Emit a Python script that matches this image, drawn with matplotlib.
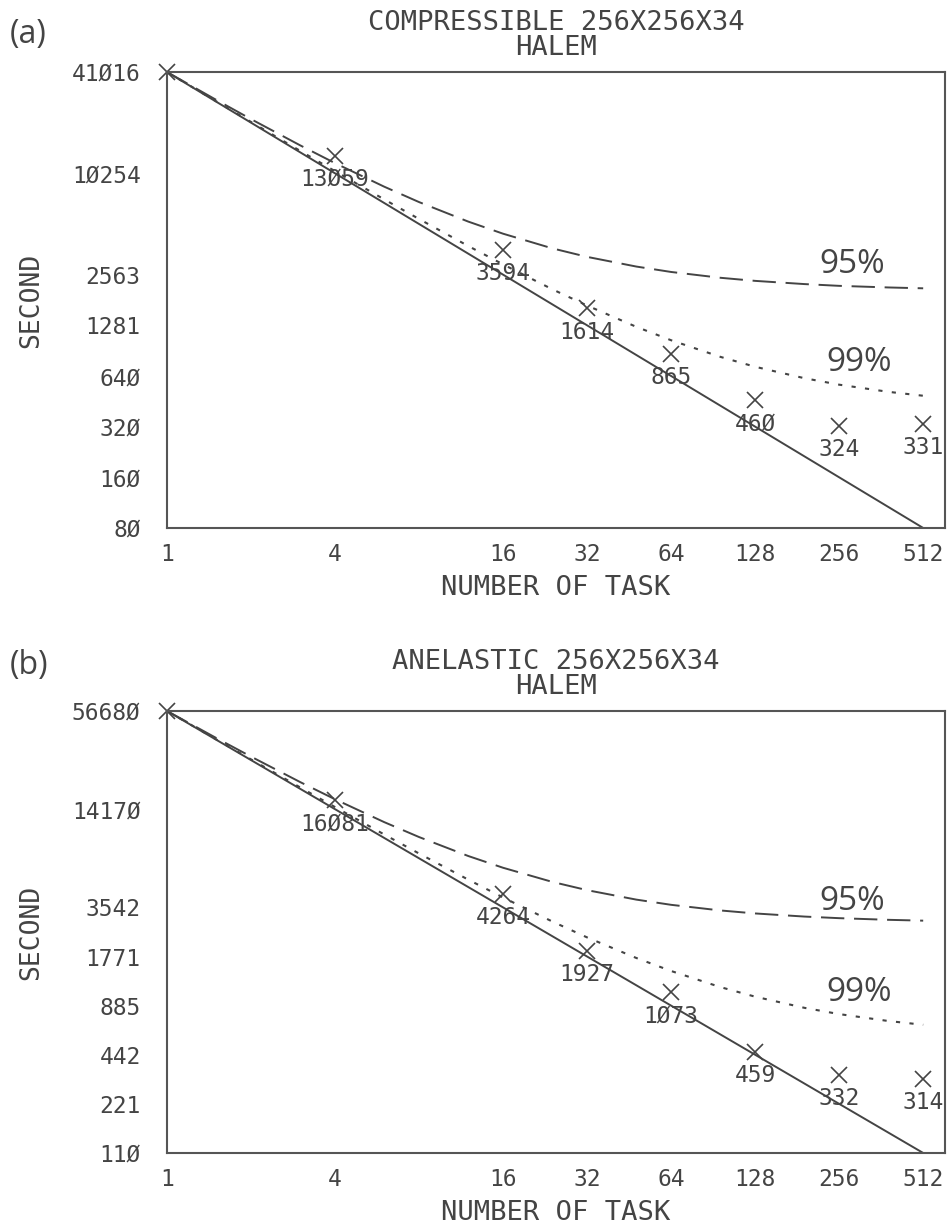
import matplotlib
matplotlib.use('Agg')
import matplotlib.pyplot as plt

# task counts (log2 axis)
tasks = [1, 4, 16, 32, 64, 128, 256, 512]
curve_tasks = [1, 1.5, 2, 3, 4, 6, 8, 12, 16, 24, 32, 48, 64, 96, 128, 192, 256, 384, 512]

# (a) compressible 256x256x34
comp_time = [41016, 13059, 3594, 1614, 865, 460, 324, 331]
comp_ideal = [41016, 80.1]
comp_95 = [41016, 28030, 21530, 15040, 11790, 8545, 6920, 5300, 4490, 3675,
           3270, 2865, 2660, 2457, 2355, 2254, 2200, 2152, 2127]
comp_99 = [41016, 27480, 20710, 13945, 10560, 7180, 5490, 3795, 2950, 2100,
           1680, 1256, 1045, 833, 727, 622, 569, 516, 489]
comp_yticks = [41016, 10254, 2563, 1281, 640, 320, 160, 80.1]
comp_ylabels = ['41Ø16', '1Ø254', '2563', '1281', '64Ø', '32Ø', '16Ø', '8Ø']

# (b) anelastic 256x256x34
anel_time = [56680, 16081, 4264, 1927, 1073, 459, 332, 314]
anel_ideal = [56680, 110.7]
anel_95 = [56680, 38730, 29760, 20780, 16300, 11810, 9565, 7320, 6200, 5080,
           4520, 3956, 3675, 3395, 3254, 3114, 3044, 2974, 2939]
anel_99 = [56680, 37980, 28620, 19270, 14600, 9920, 7580, 5245, 4074, 2905,
           2320, 1736, 1444, 1151, 1005, 859, 786, 713, 676]
anel_yticks = [56680, 14170, 3542, 1771, 885, 442, 221, 110.7]
anel_ylabels = ['5668Ø', '1417Ø', '3542', '1771', '885', '442', '221', '11Ø']

xtick_labels = ['1', '4', '16', '32', '64', '128', '256', '512']

INK = '#444444'
MONO = 'DejaVu Sans Mono'
SANS = 'Open Sans'

fig = plt.figure(figsize=(9.49, 12.25), dpi=100)

panels = [
    ('(a)', 'COMPRESSIBLE 256X256X34\nHALEM', comp_time, comp_ideal, comp_95, comp_99,
     comp_yticks, comp_ylabels, [0.176, 0.569, 0.820, 0.3722], 0.577, 0.364, 1.083),
    ('(b)', 'ANELASTIC 256X256X34\nHALEM', anel_time, anel_ideal, anel_95, anel_99,
     anel_yticks, anel_ylabels, [0.176, 0.0588, 0.820, 0.3608], 0.568, 0.362, 1.102),
]

for tag, title, times, ideal, c95, c99, yt, yl, rect, y95, y99, ytag in panels:
    ax = fig.add_axes(rect)
    ax.set_xscale('log', base=2)
    ax.set_yscale('log', base=2)

    ax.plot([tasks[0], tasks[-1]], ideal, color=INK, lw=1.4, solid_capstyle='butt')
    ax.plot(curve_tasks, c95, color=INK, lw=1.4, linestyle=(0, (12, 5)))
    ax.plot(curve_tasks, c99, color=INK, lw=1.5, linestyle=(0, (2, 4.5)))
    ax.plot(tasks, times, linestyle='none', marker='x', markersize=12,
            markeredgewidth=1.2, color=INK, clip_on=False)

    for t, v in zip(tasks[1:], times[1:]):
        ax.annotate(str(v).replace('0', 'Ø'), (t, v), xytext=(0, -17),
                    textcoords='offset points', ha='center', va='center',
                    family=MONO, fontsize=16.5, color=INK)

    ax.set_xlim(1, 614)
    ax.set_ylim(yt[-1], yt[0])
    ax.set_xticks(tasks)
    ax.set_xticklabels(xtick_labels)
    ax.set_yticks(yt)
    ax.set_yticklabels(yl)
    ax.minorticks_off()
    ax.tick_params(length=0, labelsize=16.5, labelcolor=INK)
    ax.tick_params(axis='y', pad=19)
    ax.tick_params(axis='x', pad=11)
    for lab in ax.get_xticklabels() + ax.get_yticklabels():
        lab.set_family(MONO)
    for s in ax.spines.values():
        s.set_color('#555555')
        s.set_linewidth(1.5)

    ax.set_xlabel('NUMBER OF TASK', family=MONO, fontsize=19.5, color=INK, labelpad=6)
    ax.set_ylabel('SECOND', family=MONO, fontsize=19, color=INK, labelpad=20)
    ax.set_title(title, family=MONO, fontsize=19.5, color=INK, linespacing=0.95, pad=12)

    ax.text(0.88, y95, '95%', transform=ax.transAxes, family=SANS, fontsize=24,
            color=INK, ha='center', va='center')
    ax.text(0.89, y99, '99%', transform=ax.transAxes, family=SANS, fontsize=24,
            color=INK, ha='center', va='center')
    ax.text(-0.202, ytag, tag, transform=ax.transAxes,
            family=SANS, fontsize=23, color=INK, ha='left', va='center')

fig.savefig('out.png', dpi=100)
